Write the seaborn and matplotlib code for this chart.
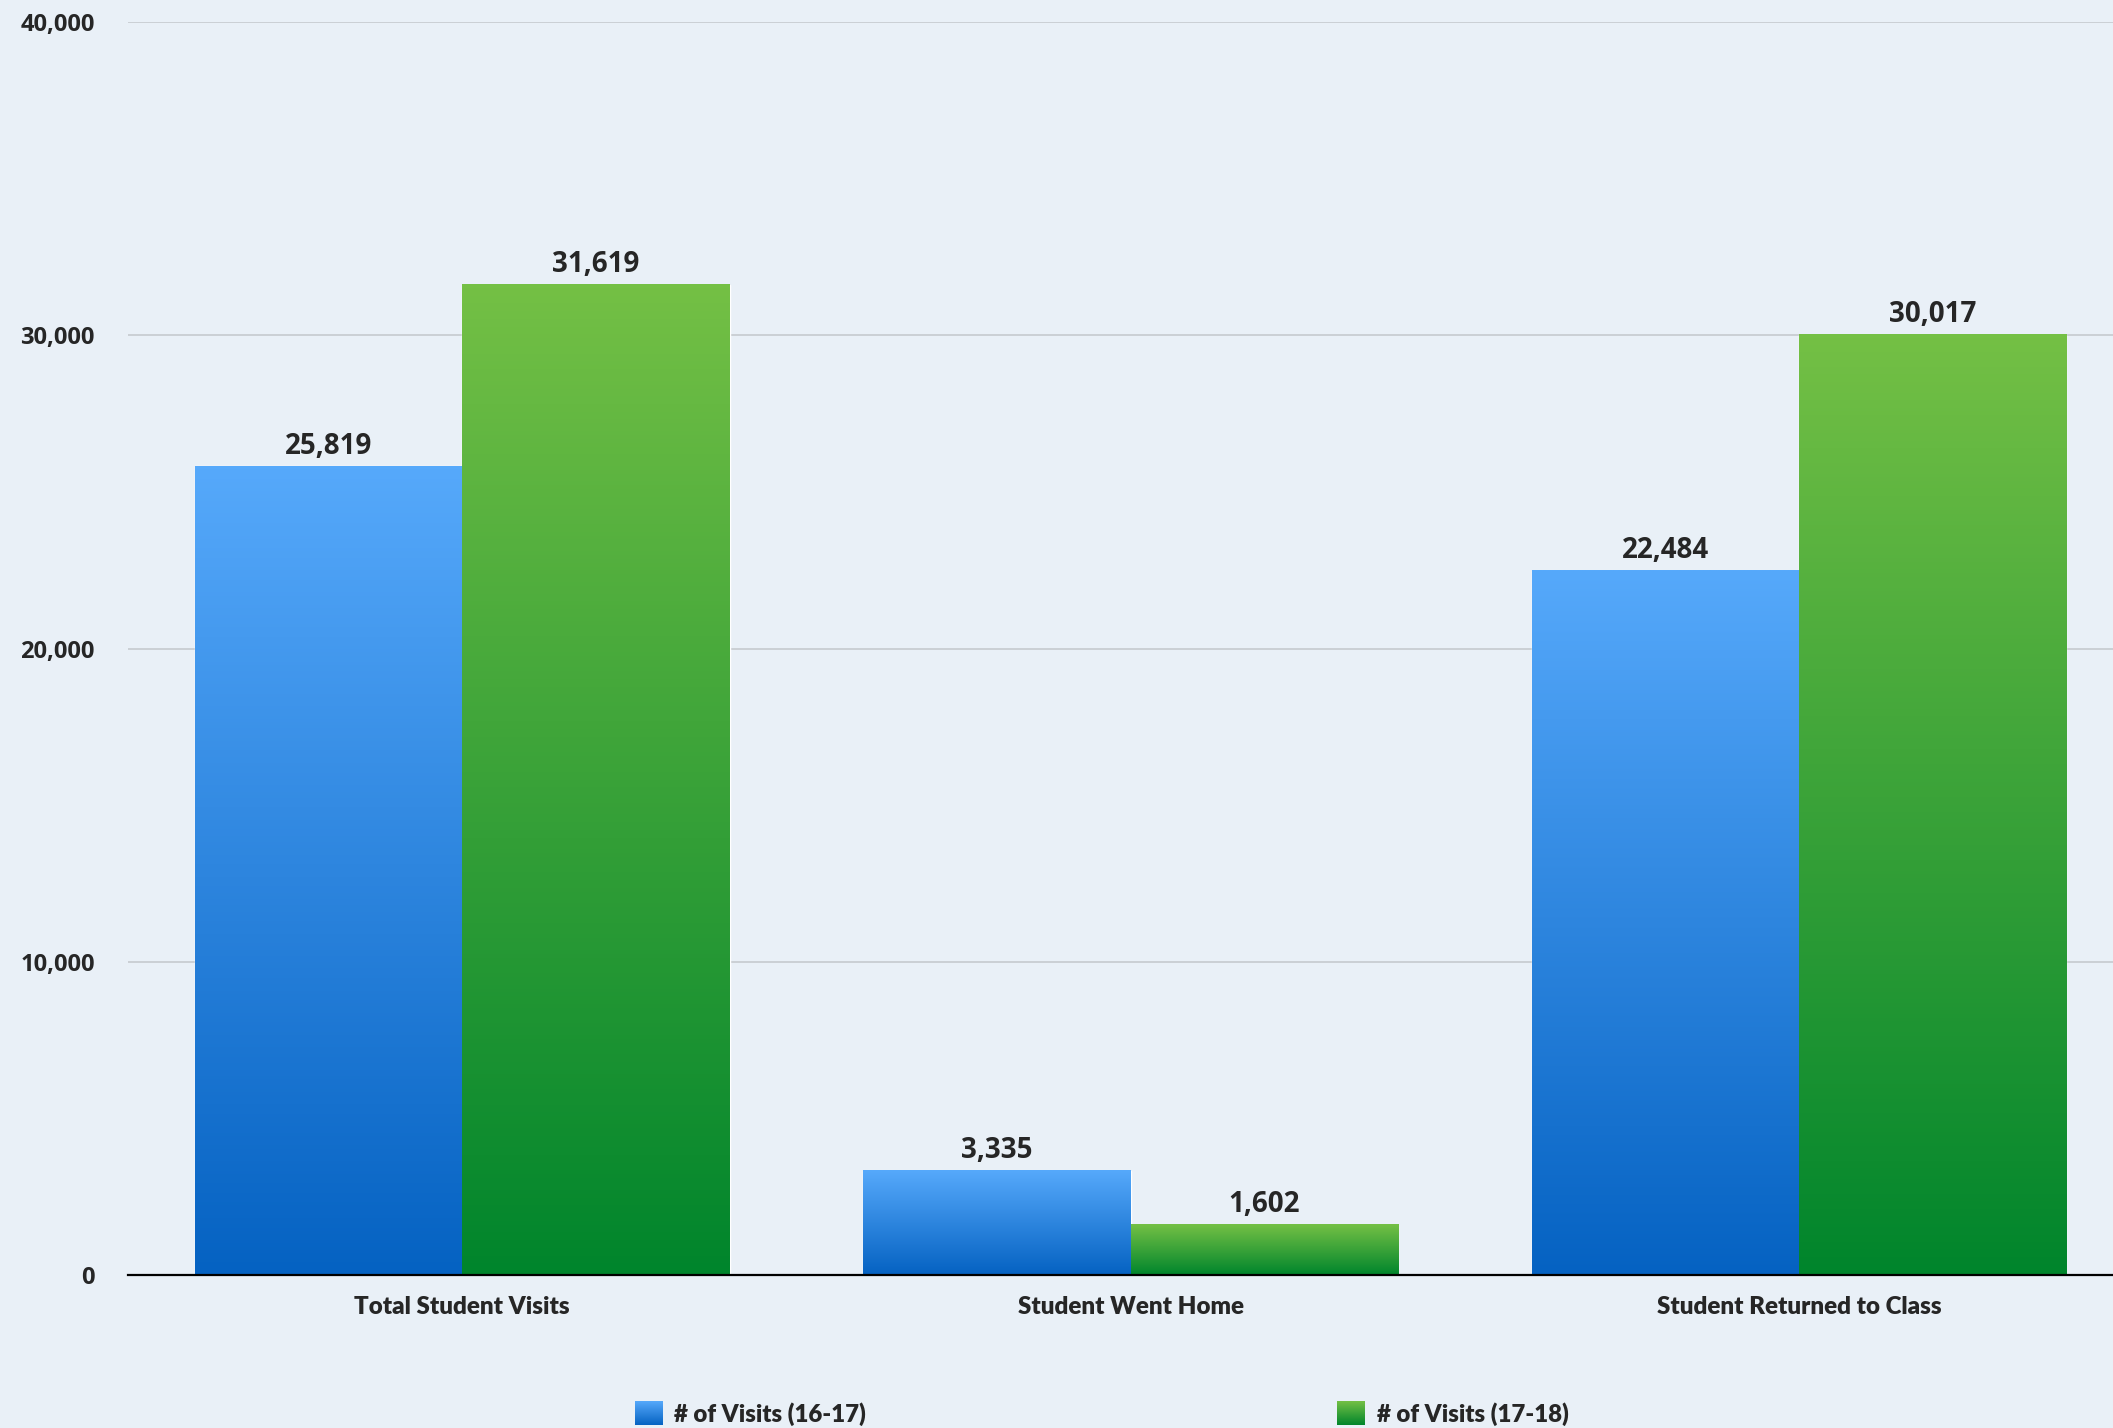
import numpy as np
import pandas as pd
import seaborn as sns
import matplotlib.pyplot as plt
from matplotlib.colors import LinearSegmentedColormap
from matplotlib.patches import Patch
from matplotlib.legend_handler import HandlerBase
from matplotlib.image import BboxImage
from matplotlib.transforms import Bbox, TransformedBbox

categories = ["Total Student Visits", "Student Went Home", "Student Returned to Class"]
series = ["# of Visits (16-17)", "# of Visits (17-18)"]
visits_1617 = [25819, 3335, 22484]
visits_1718 = [31619, 1602, 30017]

df = pd.DataFrame({
    "Category": categories * 2,
    "Series": [series[0]] * 3 + [series[1]] * 3,
    "Visits": visits_1617 + visits_1718,
})

bg = "#E9F0F7"
grads = {
    series[0]: ("#0562C2", "#56A9FB"),
    series[1]: ("#00852C", "#74C045"),
}
mid = {series[0]: "#2D86E0", series[1]: "#2FA23A"}
cmaps = {s: LinearSegmentedColormap.from_list(s, list(grads[s])) for s in series}
grad_img = np.linspace(0, 1, 256).reshape(-1, 1)


class GradHandler(HandlerBase):
    # legend square filled with the same vertical gradient as the bars
    def __init__(self, cmap):
        super().__init__()
        self.cmap = cmap

    def create_artists(self, legend, orig_handle, xdescent, ydescent,
                       width, height, fontsize, trans):
        bb = TransformedBbox(Bbox.from_bounds(-xdescent, -ydescent, width, height), trans)
        img = BboxImage(bb, cmap=self.cmap, origin="lower", interpolation="bilinear")
        img.set_data(grad_img)
        return [img]


sns.set_style("white")
plt.rcParams["font.family"] = ["Lato", "DejaVu Sans"]

fig = plt.figure(figsize=(21.13, 14.28), dpi=100, facecolor=bg)
ax = fig.add_axes([0.0606, 0.1071, 0.9394, 0.8775])
ax.set_facecolor(bg)

sns.barplot(data=df, x="Category", y="Visits", hue="Series", order=categories,
            hue_order=series, palette=mid, width=0.8, saturation=1,
            ax=ax, legend=False, zorder=2)

for container, s in zip(ax.containers, series):
    for bar in container:
        x, w, h = bar.get_x(), bar.get_width(), bar.get_height()
        ax.imshow(grad_img, extent=[x, x + w, 0, h], origin="lower",
                  aspect="auto", cmap=cmaps[s], zorder=2.5)
        bar.set_facecolor("none")
    ax.bar_label(container, labels=[f"{v:,.0f}" for v in container.datavalues],
                 padding=4, fontsize=20, fontweight="bold",
                 fontfamily="Open Sans", zorder=4)

ax.set_xlim(-0.5, 2.47)
ax.set_ylim(0, 40000)
ax.set_yticks([0, 10000, 20000, 30000, 40000])
ax.set_yticklabels([f"{v:,}" for v in [0, 10000, 20000, 30000, 40000]],
                   fontsize=17, fontweight="bold", fontfamily="Open Sans")
ax.set_xticks(range(len(categories)))
ax.set_xticklabels(categories, fontsize=17.4, fontweight="heavy")
ax.tick_params(axis="y", length=0, pad=24)
ax.tick_params(axis="x", length=0, pad=15)
ax.set_xlabel("")
ax.set_ylabel("")

ax.yaxis.grid(True, color="#C8CDD2", linewidth=1.3, zorder=0)
ax.set_axisbelow(True)
for sp in ["top", "right", "left"]:
    ax.spines[sp].set_visible(False)
ax.spines["bottom"].set_color("black")
ax.spines["bottom"].set_linewidth(1.6)
ax.spines["bottom"].set_zorder(5)

handles = [Patch(facecolor=mid[s], edgecolor="none") for s in series]
fig.legend(handles, series, loc="center", bbox_to_anchor=(0.5214, 0.010),
           ncol=2, frameon=False, columnspacing=19.6, handlelength=1.15,
           handleheight=1.15, handletextpad=0.5,
           handler_map={handles[0]: GradHandler(cmaps[series[0]]),
                        handles[1]: GradHandler(cmaps[series[1]])},
           prop={"size": 17.3, "weight": "heavy"})

fig.savefig("out.png", dpi=100, facecolor=bg)
